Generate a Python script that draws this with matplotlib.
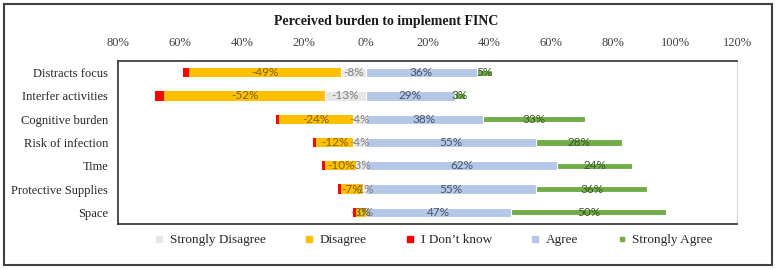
import matplotlib.pyplot as plt
import numpy as np
from matplotlib.lines import Line2D
from matplotlib.patches import Rectangle
from matplotlib.ticker import FuncFormatter

categories = ['Distracts focus', 'Interfer activities', 'Cognitive burden',
              'Risk of infection', 'Time', 'Protective Supplies', 'Space']
strongly_disagree = [8, 13, 4, 4, 3, 1, 0]
disagree = [49, 52, 24, 12, 10, 7, 3]
dont_know = [2, 3, 1, 1, 1, 1, 1]
agree = [36, 29, 38, 55, 62, 55, 47]
strongly_agree = [5, 3, 33, 28, 24, 36, 50]

c_sd = '#E7E6E6'
c_d = '#FFC000'
c_dk = '#FF0000'
c_a = '#B4C7E7'
c_sa = '#70AD47'

serif = 'Liberation Serif'
lab_font = 'Lato'

fig = plt.figure(figsize=(7.77, 2.69), dpi=100)
ax = fig.add_axes([118 / 777, 1 - 224 / 269, (737 - 118) / 777, (224 - 61) / 269])

y = np.arange(len(categories))
sd = np.array(strongly_disagree)
d = np.array(disagree)
dk = np.array(dont_know)
a = np.array(agree)
sa = np.array(strongly_agree)

h = 0.4
ax.barh(y, -sd, height=h, color=c_sd, edgecolor='white', linewidth=0.8)
ax.barh(y, -d, left=-sd, height=h, color=c_d)
ax.barh(y, -dk, left=-sd - d, height=h, color=c_dk)
ax.barh(y, a, height=h, color=c_a, edgecolor='white', linewidth=0.8)
ax.barh(y, sa, left=a, height=0.26, color=c_sa, edgecolor='white', linewidth=0.8)

for i in range(len(categories)):
    ax.text(-sd[i] / 2, y[i], '-%d%%' % sd[i] if sd[i] else '0%', ha='center', va='center',
            fontsize=8.5, color='#7F7F7F', family=lab_font)
    ax.text(-sd[i] - d[i] / 2, y[i], '-%d%%' % d[i], ha='center', va='center',
            fontsize=8.5, color='#806000', family=lab_font)
    ax.text(a[i] / 2, y[i], '%d%%' % a[i], ha='center', va='center',
            fontsize=8.5, color='#44546A', family=lab_font)
    ax.text(a[i] + sa[i] / 2, y[i], '%d%%' % sa[i], ha='center', va='center',
            fontsize=8.5, color='#375623', family=lab_font)

ax.set_xlim(-80, 120)
ax.set_ylim(len(categories) - 0.5, -0.5)
ax.set_xticks(np.arange(-80, 121, 20))
ax.xaxis.set_major_formatter(FuncFormatter(lambda v, p: '%d%%' % abs(v)))
ax.xaxis.tick_top()
ax.tick_params(axis='x', length=0, pad=9, labelsize=9, labelcolor='#404040')
ax.set_yticks(y)
ax.set_yticklabels(categories, fontsize=9, family=serif, color='#262626')
ax.tick_params(axis='y', length=0, pad=7)
for t in ax.get_xticklabels():
    t.set_family(serif)

for s in ['top', 'left', 'bottom']:
    ax.spines[s].set_color('#404040')
    ax.spines[s].set_linewidth(1.3)
ax.spines['right'].set_color('#D9D9D9')
ax.spines['right'].set_linewidth(0.8)

fig.text(0.497, 1 - 22 / 269, 'Perceived burden to implement FINC', ha='center', va='center',
         fontsize=10, fontweight='bold', family=serif, color='#1a1a1a')

handles = [
    Line2D([], [], marker='s', ls='', color=c_sd, markersize=5),
    Line2D([], [], marker='s', ls='', color=c_d, markersize=5),
    Line2D([], [], marker='s', ls='', color=c_dk, markersize=5),
    Line2D([], [], marker='s', ls='', color=c_a, markersize=5),
    Line2D([], [], marker='s', ls='', color=c_sa, markersize=3),
]
names = ['Strongly Disagree', 'Disagree', 'I Don\u2019t know', 'Agree', 'Strongly Agree']
fig.legend(handles, names, loc='center', bbox_to_anchor=(434 / 777, 1 - 240 / 269), ncol=5,
           frameon=False, handlelength=0.6, handletextpad=0.5, columnspacing=3.0,
           prop={'family': serif, 'size': 9.5}, labelcolor='#262626')

fig.patches.append(Rectangle((4 / 777, 4 / 269), 768 / 777, 261 / 269, transform=fig.transFigure,
                             fill=False, edgecolor='#404040', linewidth=1.5))

fig.savefig('out.png', dpi=100)
